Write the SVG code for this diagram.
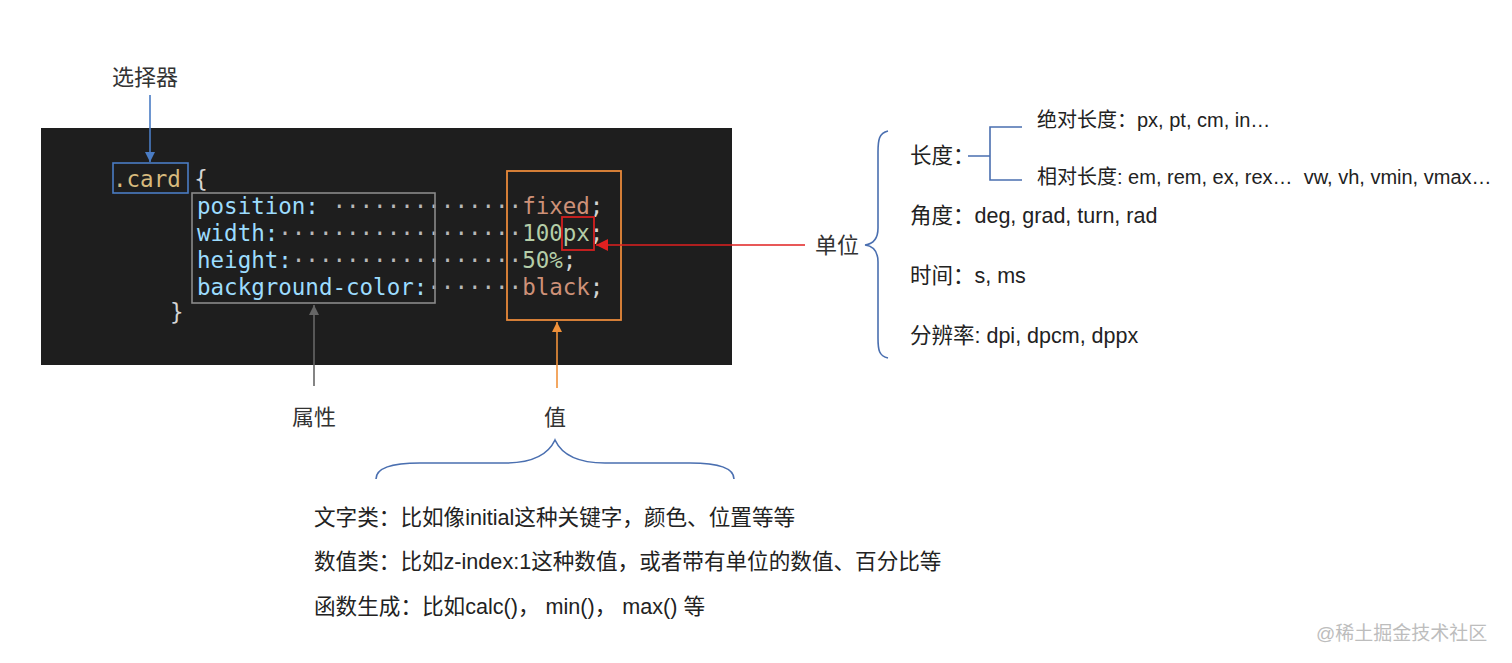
<svg xmlns="http://www.w3.org/2000/svg" width="1512" height="663" viewBox="0 0 1512 663">
<style>
.code{font-family:"DejaVu Sans Mono","Liberation Mono",monospace;font-size:22.5px;white-space:pre}
.prop{fill:#9cdcfe}.sel{fill:#d7ba7d}.str{fill:#ce9178}.num{fill:#b5cea8}.pun{fill:#d4d4d4}.dot{fill:#b8b8b8}
.lbl{font-family:"Liberation Sans","Noto Sans CJK SC",sans-serif;font-size:22px;fill:#333}
.txt{font-family:"Liberation Sans","Noto Sans CJK SC",sans-serif;font-size:21.5px;fill:#222}
.sub{font-family:"Liberation Sans","Noto Sans CJK SC",sans-serif;font-size:20px;fill:#222;white-space:pre}
.bot{font-family:"Liberation Sans","Noto Sans CJK SC",sans-serif;font-size:21.6px;fill:#222;white-space:pre}
.wm{font-family:"Liberation Sans","Noto Sans CJK SC",sans-serif;font-size:19px;fill:#bdbdbd}
.brace{fill:none;stroke:#4a6fb0;stroke-width:1.6}
</style>
<defs>
<marker id="ah-blue" viewBox="0 0 10 10" refX="10" refY="5" markerWidth="10" markerHeight="10" markerUnits="userSpaceOnUse" orient="auto"><path d="M0,0 L10,5 L0,10 z" fill="#4a7cc4"/></marker>
<marker id="ah-gray" viewBox="0 0 10 10" refX="10" refY="5" markerWidth="10" markerHeight="10" markerUnits="userSpaceOnUse" orient="auto"><path d="M0,0 L10,5 L0,10 z" fill="#666"/></marker>
<marker id="ah-orange" viewBox="0 0 10 10" refX="10" refY="5" markerWidth="10" markerHeight="10" markerUnits="userSpaceOnUse" orient="auto"><path d="M0,0 L10,5 L0,10 z" fill="#f0913a"/></marker>
<marker id="ah-red" viewBox="0 0 10 10" refX="10" refY="5" markerWidth="12" markerHeight="12" markerUnits="userSpaceOnUse" orient="auto"><path d="M0,0 L10,5 L0,10 z" fill="#e02020"/></marker>
</defs>
<rect width="1512" height="663" fill="#fff"/>

<g id="code-panel">
<rect x="41" y="128" width="691" height="237" fill="#1e1e1e"/>
<text class="code" x="113" y="187"><tspan class="sel">.card</tspan><tspan class="pun"> {</tspan></text>
<text class="code" x="197" y="214"><tspan class="prop">position:</tspan><tspan class="dot"> ··············</tspan><tspan class="str">fixed</tspan><tspan class="pun">;</tspan></text>
<text class="code" x="197" y="241"><tspan class="prop">width:</tspan><tspan class="dot">··················</tspan><tspan class="num">100px</tspan><tspan class="pun">;</tspan></text>
<text class="code" x="197" y="268"><tspan class="prop">height:</tspan><tspan class="dot">·················</tspan><tspan class="num">50%</tspan><tspan class="pun">;</tspan></text>
<text class="code" x="197" y="295"><tspan class="prop">background-color:</tspan><tspan class="dot">·······</tspan><tspan class="str">black</tspan><tspan class="pun">;</tspan></text>
<text class="code pun" x="170" y="320">}</text>
</g>

<g id="selector-box"><rect x="113" y="163" width="75" height="30" fill="none" stroke="#4a7cc4" stroke-width="1.6"/></g>
<g id="property-box"><rect x="192" y="193" width="243" height="110" fill="none" stroke="#8a8a8a" stroke-width="1.6"/></g>
<g id="value-box"><rect x="507" y="171" width="114" height="149" fill="none" stroke="#e8893a" stroke-width="1.8"/></g>
<g id="unit-box"><rect x="562" y="217" width="32" height="33" fill="none" stroke="#d42020" stroke-width="1.8"/></g>

<g id="label-selector"><text class="lbl" x="112" y="85">选择器</text></g>
<g id="label-property"><text class="lbl" x="292" y="425">属性</text></g>
<g id="label-value"><text class="lbl" x="544" y="425">值</text></g>
<g id="label-unit"><text class="lbl" x="815" y="253">单位</text></g>

<g id="connectors">
<line x1="150" y1="95" x2="150" y2="162" stroke="#4a7cc4" stroke-width="1.6" marker-end="url(#ah-blue)"/>
<line x1="314" y1="386" x2="314" y2="305" stroke="#666" stroke-width="1.6" marker-end="url(#ah-gray)"/>
<line x1="557" y1="388" x2="557" y2="322" stroke="#f0913a" stroke-width="1.6" marker-end="url(#ah-orange)"/>
<line x1="805" y1="245" x2="596" y2="245" stroke="#e02020" stroke-width="1.6" marker-end="url(#ah-red)"/>
<path class="brace" d="M888 131 C879 133 878 140 878 152 L878 228 C878 239 873 244 865 245 C873 246 878 251 878 262 L878 338 C878 350 879 356 888 358"/>
<path class="brace" d="M968 156 L990 156 M1022 127 L990 127 L990 180 L1022 180"/>
<path class="brace" d="M376 479 C376 469 390 463 420 463 L505 463 C532 463 548 455 555 440 C562 455 578 463 605 463 L690 463 C720 463 734 469 734 479"/>
</g>

<g id="units">
<text class="txt" x="910" y="163">长度：</text>
<text class="sub" x="1037" y="127">绝对长度：px, pt, cm, in…</text>
<text class="sub" x="1037" y="184">相对长度: em, rem, ex, rex…  vw, vh, vmin, vmax…</text>
<text class="txt" x="910" y="223">角度：deg, grad, turn, rad</text>
<text class="txt" x="910" y="283">时间：s, ms</text>
<text class="txt" x="910" y="343">分辨率: dpi, dpcm, dppx</text>
</g>

<g id="value-types">
<text class="bot" x="314" y="525">文字类：比如像initial这种关键字，颜色、位置等等</text>
<text class="bot" x="314" y="569">数值类：比如z-index:1这种数值，或者带有单位的数值、百分比等</text>
<text class="bot" x="314" y="614">函数生成：比如calc()， min()， max() 等</text>
</g>

<g id="watermark"><text class="wm" x="1316" y="640">@稀土掘金技术社区</text></g>
</svg>
